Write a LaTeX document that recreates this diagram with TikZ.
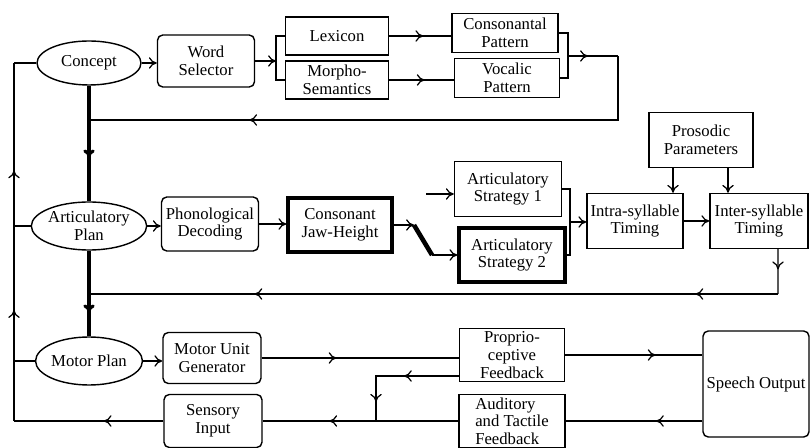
\documentclass[tikz,border=0pt]{standalone}
\usepackage{fontspec}
\setmainfont{Liberation Serif}
\usetikzlibrary{shapes.geometric,positioning,arrows.meta,decorations.markings}
\tikzset{blk/.style={rectangle, draw, line width=0.8pt, align=center, inner sep=0pt,
            font=\fontsize{9.5}{10}\selectfont},
         sz/.style 2 args={minimum width=#1*0.02cm, minimum height=#2*0.02cm},
         rnd/.style={blk, rounded corners=3pt},
         hvy/.style={blk, line width=1.8pt},
         ovl/.style={ellipse, draw, line width=0.8pt, align=center, inner sep=0pt,
            font=\fontsize{9.5}{10}\selectfont},
         trunk/.style={line width=1.8pt},
         switchbar/.style={line width=2.6pt},
         faint/.style={black!25, dotted, line width=0.5pt},
         mid/.style={postaction={decorate,decoration={markings,
            mark=at position #1 with {\arrow{>}}}}}}

\begin{document}
\begin{tikzpicture}[x=0.02cm, y=-0.02cm, line width=0.7pt,
                    >={To[length=4.5pt,width=6.5pt]}]
\useasboundingbox (0,0) rectangle (810,448);
% top row
\node[ovl, sz={104}{44}] (concept) at (89,63) {Concept};
\node[rnd, sz={97}{52}] (wordsel) at (206,61) {Word\\Selector};
\node[blk, sz={103}{38}] (lexicon) at (337,36) {Lexicon};
\node[blk, sz={103}{38}] (morpho) at (337,80) {Morpho-\\Semantics};
\node[blk, sz={106}{39}] (conspat) at (505,33) {Consonantal\\Pattern};
\node[blk, sz={105}{39}] (vocpat) at (507,78) {Vocalic\\Pattern};
\coordinate (wsfork) at (276,61);
\coordinate (patfork) at (568,56);
\coordinate (patturn) at (618,56);
\coordinate (trunk1) at (89,120);
% middle row
\node[ovl, sz={104}{48}] (artplan) at (89,226) {Articulatory\\Plan};
\node[rnd, sz={97}{54}] (phono) at (210,224) {Phonological\\Decoding};
\node[hvy, sz={104}{54}] (jaw) at (340,225) {Consonant\\Jaw-Height};
\node[blk, sz={107}{55}] (strat1) at (508,189) {Articulatory\\Strategy 1};
\node[hvy, sz={106}{54}] (strat2) at (512,255) {Articulatory\\Strategy 2};
\node[blk, sz={96}{55}] (intra) at (635,221) {Intra-syllable\\Timing};
\node[blk, sz={98}{55}] (inter) at (759,221) {Inter-syllable\\Timing};
\node[blk, sz={104}{55}] (prosodic) at (701,140) {Prosodic\\Parameters};
\coordinate (sw0) at (414,225);
\coordinate (sw1) at (432,255);
\coordinate (sw2) at (426,194);
\coordinate (stratfork) at (570,222);
\coordinate (retturn) at (778,294);
\coordinate (trunk2) at (89,294);
% bottom row
\node[ovl, sz={102}{48}] (motorplan) at (89,361) {Motor Plan};
\node[rnd, sz={98}{51}] (motorunit) at (212,358) {Motor Unit\\Generator};
\node[rnd, sz={98}{53}] (sensory) at (213,421) {Sensory\\Input};
\node[blk, sz={105}{53}] (proprio) at (512,355) {Proprio-\\ceptive\\Feedback};
\node[blk, sz={106}{53}, align=left] (auditory) at (512,421) {Auditory\\and Tactile\\Feedback};
\node[rnd, sz={106}{106}] (speech) at (756,384) {Speech Output};
\coordinate (fbjoin) at (376,421);
\coordinate (lp1) at (14,421);
\coordinate (lp2) at (14,63);

\draw[->] (concept.east) -- (concept.east -| wordsel.west);
\draw[->] (wordsel.east) -- (wsfork);
\draw (lexicon.west) -| (wsfork) |- (morpho.west);
\draw[mid=0.55] (lexicon.east) -- (lexicon.east -| conspat.west);
\draw[mid=0.55] (morpho.east) -- (morpho.east -| vocpat.west);
\draw (conspat.east) -| (patfork) |- (vocpat.east);
\draw[mid=0.4] (patfork) -- (patturn);
\draw[mid=0.73] (patturn) |- (trunk1);

\draw[trunk, mid=0.62] (concept.south) -- (artplan.north);
\draw[trunk, mid=0.72] (artplan.south) -- (motorplan.north);

\draw[->] (artplan.east) -- (artplan.east -| phono.west);
\draw[->] (phono.east) -- (phono.east -| jaw.west);
\draw[->] (jaw.east) -- (sw0);
\draw[switchbar] (sw0) -- (sw1);
%\draw[faint] (sw0) to[bend left=20] (sw2);
\draw[->] (sw1) -- (sw1 -| strat2.west);
\draw[->] (sw2) -- (sw2 -| strat1.west);
\draw (strat1.east) -| (stratfork) |- (strat2.east);
\draw[->] (stratfork) -- (stratfork -| intra.west);
\draw[->] (intra) -- (inter);
\draw[->] ([xshift=-0.56cm]prosodic.south) -- ([xshift=-0.56cm]prosodic.south |- intra.north);
\draw[->] ([xshift=0.54cm]prosodic.south) -- ([xshift=0.54cm]prosodic.south |- inter.north);
\draw[mid=0.45] ([xshift=0.38cm]inter.south) -- (retturn);
\draw[mid=0.12, mid=0.76] (retturn) -- (trunk2);

\draw[->] (motorplan.east) -- (motorplan.east -| motorunit.west);
\draw[mid=0.38] (motorunit.east) -- (motorunit.east -| proprio.west);
\draw[mid=0.66] (proprio.east) -- (proprio.east -| speech.west);
\draw[mid=0.34] (speech.west |- auditory.east) -- (auditory.east);
\draw[mid=0.66] (auditory.west) -- (sensory.east);
\draw[mid=0.43, mid=0.85] ([yshift=-0.42cm]proprio.west) -| (fbjoin);

% feedback loop on the left
\draw[mid=0.4] (sensory.west) -- (lp1);
\draw[mid=0.31, mid=0.7] (lp1) -- (lp2);
\draw (lp2) -- (concept.west);
\draw (artplan.west) -- (artplan.west -| lp1);
\draw (motorplan.west) -- (motorplan.west -| lp1);
\end{tikzpicture}
\end{document}
